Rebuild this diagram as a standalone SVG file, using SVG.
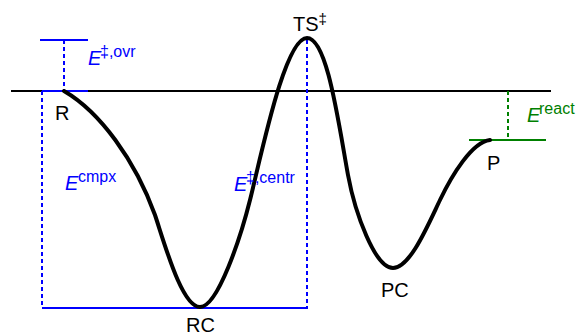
<svg xmlns="http://www.w3.org/2000/svg" width="576" height="335" viewBox="0 0 576 335">
<style>
.lbl{font-family:"Liberation Sans",Arial,sans-serif;font-size:20px;fill:#000}
.e{font-family:"Liberation Sans",Arial,sans-serif;font-size:20px;font-style:italic}
.sup{font-size:16px;font-style:normal}
.blue{stroke:#0000ff;stroke-width:2;fill:none}
.green{stroke:#008000;stroke-width:2;fill:none}
.dash{stroke-dasharray:4,3}
</style>
<rect width="576" height="335" fill="#fff"/>
<g id="baseline"><line x1="11" y1="91" x2="551" y2="91" stroke="#000" stroke-width="2"/></g>
<g id="connectors">
<line class="blue" x1="40" y1="40" x2="88" y2="40"/>
<line class="blue dash" x1="64" y1="40" x2="64" y2="91"/>
<line class="blue" x1="42" y1="91" x2="88" y2="91"/>
<line class="blue dash" x1="42" y1="91" x2="42" y2="308"/>
<line class="blue" x1="42" y1="308" x2="308" y2="308"/>
<line class="blue dash" x1="307" y1="40" x2="307" y2="308"/>
<line class="green" x1="469" y1="140" x2="546" y2="140"/>
<line class="green dash" x1="508" y1="91" x2="508" y2="140"/>
</g>
<g id="curve"><path d="M64,91 C100,112 135,160 155,215 C165,245 182,307 200,307 C218,307 241,236 250,200 C262,152 285,38 307,38 C327,38 338,120 348,175 C355,213 375,268 393,268 C410,268 428,225 440,200 C452,175 472,142 490,140" fill="none" stroke="#000" stroke-width="4" stroke-linecap="round"/></g>
<g id="R"><text class="lbl" x="55" y="120">R</text></g>
<g id="TS"><text class="lbl" x="293" y="31">TS<tspan font-size="15" dy="-7">‡</tspan></text></g>
<g id="RC"><text class="lbl" x="186" y="332">RC</text></g>
<g id="PC"><text class="lbl" x="381" y="297">PC</text></g>
<g id="P"><text class="lbl" x="487" y="170">P</text></g>
<g id="E-ovr"><text class="e" fill="#0000ff" x="88" y="65">E<tspan class="sup" x="100" dy="-8">‡,ovr</tspan></text></g>
<g id="E-cmpx"><text class="e" fill="#0000ff" x="65" y="190">E<tspan class="sup" x="78" dy="-8">cmpx</tspan></text></g>
<g id="E-centr"><text class="e" fill="#0000ff" x="234" y="191">E<tspan class="sup" x="246" dy="-8">‡,centr</tspan></text></g>
<g id="E-react"><text class="e" fill="#008000" x="527" y="122">E<tspan class="sup" font-size="15" x="539" dy="-8">react</tspan></text></g>
</svg>
